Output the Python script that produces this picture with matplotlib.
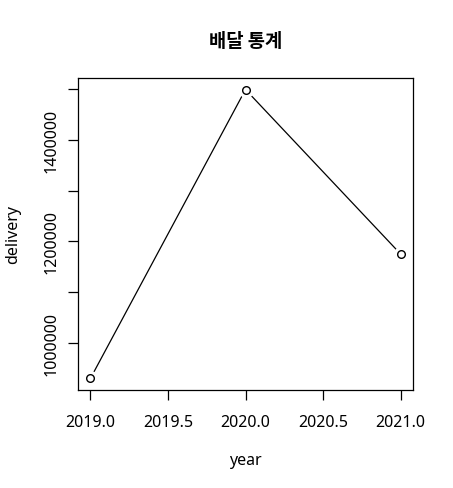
import matplotlib
matplotlib.use("Agg")
import matplotlib.pyplot as plt
import numpy as np

years = [2019, 2020, 2021]
delivery = [929300, 1499500, 1174900]
xticks = [2019.0, 2019.5, 2020.0, 2020.5, 2021.0]
xticklabels = ["2019.0", "2019.5", "2020.0", "2020.5", "2021.0"]
yticks = [1000000, 1100000, 1200000, 1300000, 1400000, 1500000]
yticklabels = ["1000000", "", "1200000", "", "1400000", ""]
title = "배달 통계"
xlabel = "year"
ylabel = "delivery"

plt.rcParams['font.family'] = ['Noto Sans', 'Noto Sans CJK KR', 'DejaVu Sans']

fig = plt.figure(figsize=(4.53, 4.89), dpi=100)
ax = fig.add_axes([78/453, 1-391/489, (413-78)/453, (391-79)/489])

ax.plot(years, delivery, color='black', lw=0.9, zorder=1)
ax.plot(years, delivery, 'o', ms=10, mfc='white', mec='white', zorder=2)
ax.plot(years, delivery, 'o', ms=5.5, mfc='white', mec='black', mew=1.0, zorder=3)

xr = max(years) - min(years)
ax.set_xlim(min(years) - 0.04*xr, max(years) + 0.04*xr)
yr = max(delivery) - min(delivery)
ax.set_ylim(min(delivery) - 0.04*yr, max(delivery) + 0.04*yr)

ax.set_xticks(xticks)
ax.set_xticklabels(xticklabels, fontsize=11.5)
ax.set_yticks(yticks)
ax.set_yticklabels(yticklabels, fontsize=11.5, rotation=90, va='center')
ax.tick_params(direction='out', length=7, width=0.9)
ax.tick_params(axis='x', pad=10)
ax.tick_params(axis='y', pad=6)
for s in ax.spines.values():
    s.set_linewidth(0.9)

fig.text((78+413)/2/453, 1-42/489, title, ha='center', va='center', fontsize=13.5, fontweight='bold',
         family=['Noto Sans CJK KR', 'DejaVu Sans'])
fig.text((78+413)/2/453, 1-461/489, xlabel, ha='center', va='center', fontsize=11.5)
fig.text(13/453, 1-235/489, ylabel, ha='center', va='center', fontsize=11.5, rotation=90)

fig.savefig("out.png", dpi=100)
